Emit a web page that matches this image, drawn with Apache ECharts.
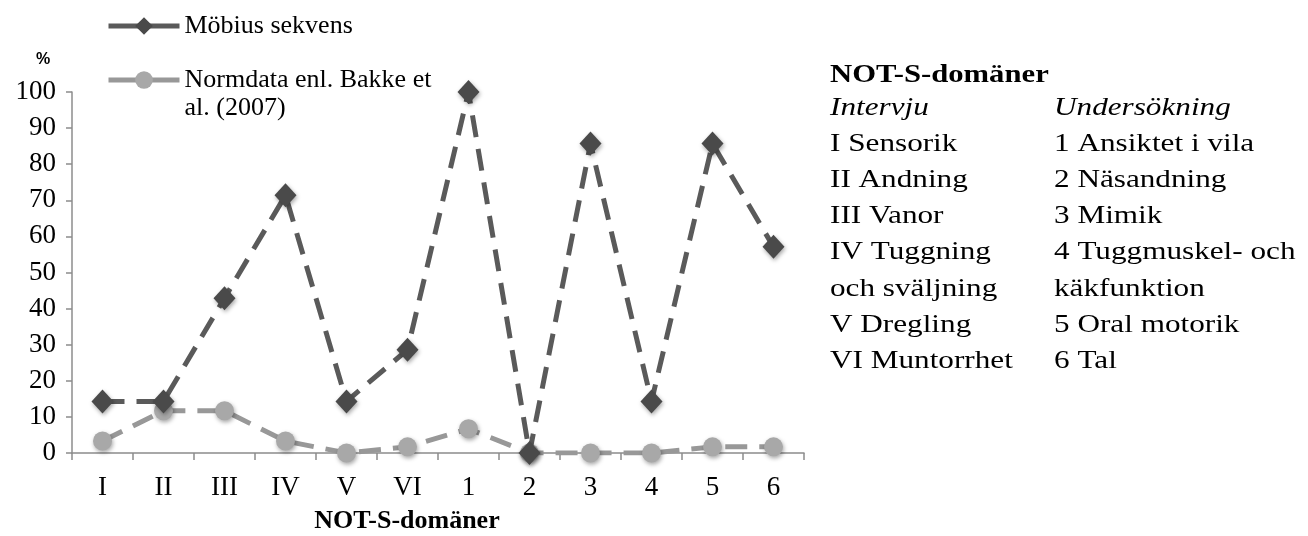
<!DOCTYPE html>
<html><head><meta charset="utf-8">
<script src="https://cdn.jsdelivr.net/npm/echarts@6/dist/echarts.min.js"></script>
<style>html,body{margin:0;padding:0;background:#fff}#c{width:1308px;height:536px}</style>
</head><body><div id="c"></div>
<script>
var categories = ['I','II','III','IV','V','VI','1','2','3','4','5','6'];
var mobius = [14.3,14.3,42.9,71.4,14.3,28.6,100,0,85.7,14.3,85.7,57.1];
var normdata = [3.3,11.7,11.7,3.3,0,1.7,6.7,0,0,0,1.7,1.7];
var yTicks = [0,10,20,30,40,50,60,70,80,90,100];
var seriesNames = ['Möbius sekvens','Normdata enl. Bakke et al. (2007)'];
var legendLabels = ['Möbius sekvens','\u00a0\nNormdata enl. Bakke et\nal. (2007)'];
var intervju = ['I Sensorik','II Andning','III Vanor','IV Tuggning','och sväljning','V Dregling','VI Muntorrhet'];
var undersokning = ['1 Ansiktet i vila','2 Näsandning','3 Mimik','4 Tuggmuskel- och','käkfunktion','5 Oral motorik','6 Tal'];

var serif = 'Liberation Serif';
var chart = echarts.init(document.getElementById('c'));
var graphics = [
  {type:'text', x:830, y:62, scaleX:1.18, style:{text:'NOT-S-domäner', font:'bold 26px "Liberation Serif"', fill:'#000'}},
  {type:'text', x:830, y:95, scaleX:1.2, style:{text:'Intervju', font:'italic 26px "Liberation Serif"', fill:'#000'}},
  {type:'text', x:1054, y:95, scaleX:1.2, style:{text:'Undersökning', font:'italic 26px "Liberation Serif"', fill:'#000'}},
  {type:'text', x:36, y:52, style:{text:'%', font:'bold 16px "Liberation Sans"', fill:'#000'}}
];
intervju.forEach(function(t,i){graphics.push({type:'text', x:830, y:131+i*36.2, scaleX:1.2, style:{text:t, font:'26px "Liberation Serif"', fill:'#000'}});});
undersokning.forEach(function(t,i){graphics.push({type:'text', x:1054, y:131+i*36.2, scaleX:1.2, style:{text:t, font:'26px "Liberation Serif"', fill:'#000'}});});

var legendBase = {
  orient:'vertical', left:101, itemWidth:71, itemHeight:22,
  lineStyle:{type:'solid', width:5},
  textStyle:{fontFamily:serif, fontSize:26, color:'#000', lineHeight:28},
  formatter:function(n){return legendLabels[seriesNames.indexOf(n)];}
};
chart.setOption({
  animation:false,
  textStyle:{fontFamily:serif},
  graphic:graphics,
  legend:[
    Object.assign({}, legendBase, {top:7, data:[seriesNames[0]]}),
    Object.assign({}, legendBase, {top:33, data:[seriesNames[1]]})
  ],
  grid:{left:72, right:504, top:92, bottom:83, containLabel:false, outerBoundsMode:'none'},
  xAxis:{
    type:'category', data:categories, boundaryGap:true,
    name:'NOT-S-domäner', nameLocation:'middle', nameGap:55,
    nameTextStyle:{fontFamily:serif, fontWeight:'bold', fontSize:26, color:'#000', padding:[0,62,0,0]},
    axisLine:{lineStyle:{color:'#8c8c8c', width:1.5}},
    axisTick:{show:true, alignWithLabel:false, length:7, lineStyle:{color:'#8c8c8c', width:1.5}},
    axisLabel:{fontFamily:serif, fontSize:27, color:'#000', margin:21}
  },
  yAxis:{
    type:'value', min:0, max:100, interval:10,
    axisLine:{show:true, lineStyle:{color:'#8c8c8c', width:1.5}},
    axisTick:{show:true, length:6, lineStyle:{color:'#8c8c8c', width:1.5}},
    splitLine:{show:false},
    axisLabel:{fontFamily:serif, fontSize:27, color:'#000', margin:16,
      formatter:function(v){return yTicks.indexOf(v)>=0?String(v):'';}}
  },
  series:[
    {name:seriesNames[0], type:'line', data:mobius, symbol:'diamond', symbolSize:[22,24],
     lineStyle:{color:'#5a5a5a', width:5, type:[22,12]},
     itemStyle:{color:'#4a4a4a', shadowBlur:4, shadowColor:'rgba(0,0,0,0.35)', shadowOffsetX:1, shadowOffsetY:2},
     z:3},
    {name:seriesNames[1], type:'line', data:normdata, symbol:'circle', symbolSize:19,
     lineStyle:{color:'#989898', width:5, type:[22,12]},
     itemStyle:{color:'#a8a8a8', shadowBlur:4, shadowColor:'rgba(0,0,0,0.35)', shadowOffsetX:1, shadowOffsetY:2},
     z:2}
  ]
});
</script></body></html>
